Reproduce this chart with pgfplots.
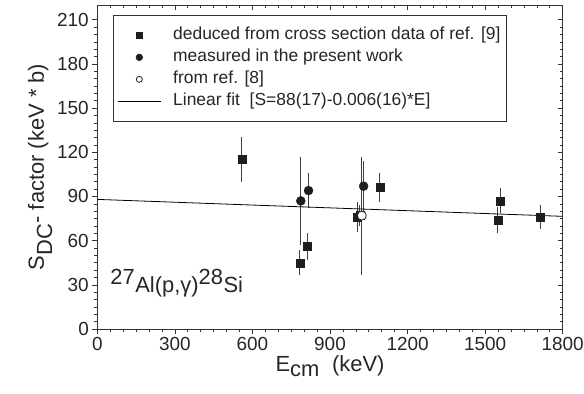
\documentclass[border=0pt]{standalone}
\usepackage{fontspec}
\setmainfont{Liberation Sans}
\usepackage{pgfplots}
\pgfplotsset{compat=1.18}
\usetikzlibrary{calc}
\definecolor{mk}{HTML}{1E1E1E}
\begin{document}
\begin{tikzpicture}
\pgfplotsset{
  common/.style={
    scale only axis, width=465.4bp, height=324bp,
    xmin=0, xmax=1800, ymin=0, ymax=220,
    xtick={0,300,...,1800}, ytick={0,30,...,210},
    minor x tick num=5, minor y tick num=5,
    major tick length=5bp, minor tick length=3bp,
    axis line style={line width=0.9pt, black!80},
    every tick/.style={line width=0.6pt, black!80},
  }
}
\begin{axis}[common,
  xtick pos=bottom, ytick pos=left, tick align=outside,
  ticklabel style={font=\fontsize{19}{19}\selectfont, text=black!85},
  /pgf/number format/assume math mode=true,
  /pgf/number format/1000 sep={},
  xlabel={E$_{\textrm{cm}}$\ \ (keV)},
  ylabel={S$_{\textrm{DC}}$- factor (keV * b)},
  label style={font=\fontsize{22}{22}\selectfont, text=black!85},
  xlabel style={yshift=2bp},
  ylabel style={yshift=-2bp},
  legend style={at={(0.034,0.969)}, anchor=north west, draw=black!80, line width=0.6pt,
    font=\fontsize{17.5}{17.5}\selectfont, inner xsep=4bp, inner ysep=9bp,
    row sep=0bp,
    nodes={font=\fontsize{17.5}{17.5}\selectfont, text=black!85, text height=13bp, text depth=4bp, inner ysep=2.5bp},
    /tikz/every odd column/.append style={column sep=10bp}},
  legend cell align=left,
  legend image code/.code={\draw[mark repeat=2,mark phase=2,#1] plot coordinates {(0bp,0bp) (21.5bp,0bp) (43bp,0bp)};},
  error bars/y dir=both, error bars/y explicit,
  error bars/error mark=none,
  error bars/error bar style={line width=0.9pt, black!75},
]
\addplot[only marks, mark=square*, mark size=4bp, mark options={fill=mk, draw=mk},
  legend image post style={mark size=3bp}]
  table[x=E, y=S, y error=e] {
E S e
559 115 15.5
783 45 8.5
812 56 9
1006 76 10
1015 77 7
1093 96 10
1549 74 9
1559 87 8.5
1714 76 8
};
\addlegendentry{deduced from cross section data of ref. [9]\hspace{34bp}}
\addplot[only marks, mark=*, mark size=4.5bp, mark options={fill=mk, draw=mk},
  legend image post style={mark size=3.3bp}]
  table[x=E, y=S, y error=e] {
E S e
787 87 30
817 94 12
1030 97 17
};
\addlegendentry{measured in the present work}
\addplot[only marks, mark=*, mark size=4.5bp, mark options={fill=white, draw=mk, line width=0.8pt},
  legend image post style={mark size=3bp}]
  table[x=E, y=S, y error=e] {
E S e
1023 77 40
};
\addlegendentry{from ref. [8]}
\addplot[black, line width=0.8pt, no marks] coordinates {(0,88) (1800,76.5)};
\addlegendentry{Linear fit\ \ [S=88(17)-0.006(16)*E]}
\node[anchor=base west, font=\fontsize{22}{22}\selectfont, text=black!85, inner sep=0]
  at (axis cs:50,25) {$^{\textrm{27}}$Al(p,γ)$^{\textrm{28}}$Si};
\end{axis}
\begin{axis}[common,
  xtick pos=top, ytick pos=right, tick align=inside,
  xticklabels={}, yticklabels={}]
\end{axis}
\pgfresetboundingbox
\useasboundingbox ($(current axis.south west)+(-97.3bp,-65bp)$) rectangle ($(current axis.north east)+(21.3bp,5bp)$);
\end{tikzpicture}
\end{document}
